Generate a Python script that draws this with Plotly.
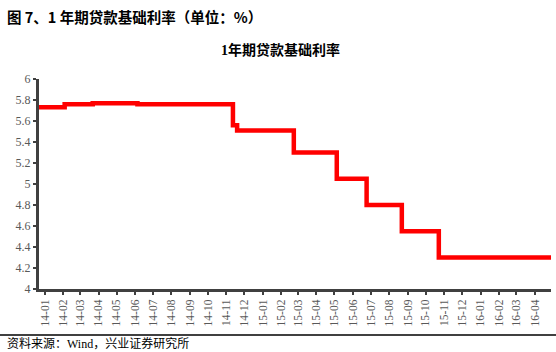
import plotly.graph_objects as go

# Step change dates and 1-year LPR values (%)
step_dates = ["2013-12-22", "2014-02-03", "2014-03-22", "2014-06-05", "2014-11-12",
              "2014-11-19", "2015-02-22", "2015-05-05", "2015-06-24", "2015-08-22",
              "2015-10-23", "2016-04-28"]
step_values = [5.73, 5.76, 5.77, 5.76, 5.56, 5.51, 5.30, 5.05, 4.80, 4.55, 4.30, 4.30]

tick_dates = [f"{y}-{m:02d}-01" for y in (2014, 2015, 2016) for m in range(1, 13)
              if not (y == 2016 and m > 4)]
tick_labels = [f"{d[2:4]}-{d[5:7]}" for d in tick_dates]
y_ticks = [4, 4.2, 4.4, 4.6, 4.8, 5, 5.2, 5.4, 5.6, 5.8, 6]
y_labels = ["4", "4.2", "4.4", "4.6", "4.8", "5", "5.2", "5.4", "5.6", "5.8", "6"]

fig = go.Figure()
fig.add_trace(go.Scatter(x=step_dates, y=step_values, mode="lines",
                         line=dict(color="#ff0000", width=4.5, shape="hv"),
                         hoverinfo="x+y", showlegend=False))

W, H = 556, 352
L, R, T, B = 39, 5, 79, 63
pw, ph = W - L - R, H - T - B

def px(x):
    return (x - L) / pw

def py(y):
    return (H - B - y) / ph

serif = "Liberation Serif, Noto Sans CJK SC, serif"
fig.update_layout(
    width=W, height=H,
    margin=dict(l=L, r=R, t=T, b=B),
    paper_bgcolor="white", plot_bgcolor="white",
    xaxis=dict(type="date", range=["2013-12-22", "2016-04-28"],
               tickvals=tick_dates, ticktext=tick_labels, tickangle=-90,
               showgrid=False, zeroline=False, showline=True,
               linecolor="#404040", linewidth=3,
               ticks="outside", ticklen=3, tickwidth=2, tickcolor="#404040",
               tickfont=dict(family=serif, size=11.5, color="#595959")),
    yaxis=dict(range=[4, 6], tickvals=y_ticks, ticktext=y_labels,
               showgrid=False, zeroline=False, showline=True,
               linecolor="#404040", linewidth=3,
               ticks="outside", ticklen=3, tickwidth=2, tickcolor="#404040",
               tickfont=dict(family=serif, size=12, color="#595959")),
    shapes=[
        dict(type="line", xref="paper", yref="paper", x0=px(0), x1=px(W),
             y0=py(335), y1=py(335), line=dict(color="black", width=1.5)),
    ],
    annotations=[
        dict(text="<b>图 7、1 年期贷款基础利率（单位：%）</b>", xref="paper", yref="paper",
             x=px(5), y=py(17), xanchor="left", yanchor="middle", showarrow=False,
             font=dict(family="Noto Sans CJK SC", size=14.5, color="black")),
        dict(text="<b>1年期贷款基础利率</b>", xref="paper", yref="paper",
             x=px(280), y=py(50), xanchor="center", yanchor="middle", showarrow=False,
             font=dict(family=serif, size=14, color="black")),
        dict(text="资料来源：Wind，兴业证券研究所", xref="paper", yref="paper",
             x=px(5), y=py(343), xanchor="left", yanchor="middle", showarrow=False,
             font=dict(family=serif, size=12, color="black")),
    ],
)

fig.write_html("out.html")
